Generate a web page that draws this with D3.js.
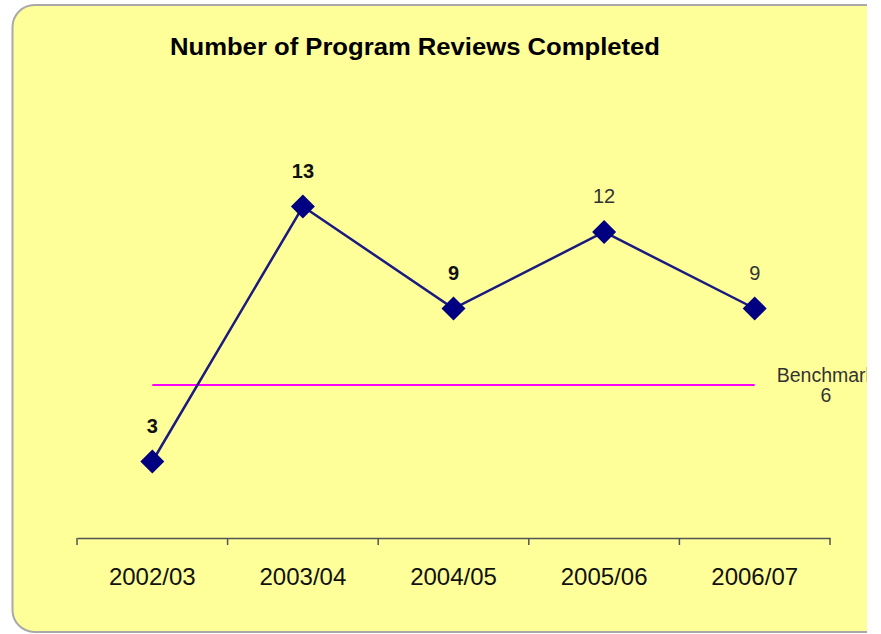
<html>
<head>
<meta charset="utf-8">
<script src="https://cdn.jsdelivr.net/npm/d3@7"></script>
<style>
body { margin: 0; background: #fff; }
.chart text { font-family: "Liberation Sans", Arial, sans-serif; }
.axis path, .axis line { stroke: #555; stroke-width: 1.5; }
</style>
</head>
<body>
<svg class="chart"></svg>
<script>
// data
var years = ["2002/03", "2003/04", "2004/05", "2005/06", "2006/07"];
var reviews = [3, 13, 9, 12, 9];
var benchmark = [6];
var title = "Number of Program Reviews Completed";

// which point labels are drawn bold (as in the original)
var boldLabel = [true, true, true, false, false];

var width = 881,
height = 634;

var svg = d3.select(".chart")
.attr("width", width)
.attr("height", height);

// yellow panel, rounded on the left, cut off on the right
svg.append("clipPath").attr("id", "panelClip")
.append("rect").attr("x", 0).attr("y", 0).attr("width", 867).attr("height", height);

var g = svg.append("g").attr("clip-path", "url(#panelClip)");

g.append("rect")
.attr("x", 12.5).attr("y", 5)
.attr("width", 920).attr("height", 627)
.attr("rx", 22).attr("ry", 22)
.attr("fill", "#ffff99")
.attr("stroke", "#a9a9a9")
.attr("stroke-width", 2);

var x = d3.scaleBand()
.domain(years)
.range([77, 830]);

var y = d3.scaleLinear()
.domain([0, 16])
.range([538, 130]);

// title
g.append("text")
.attr("x", 170).attr("y", 55)
.attr("font-size", 23)
.attr("font-weight", "bold")
.attr("fill", "#000")
.attr("textLength", 490)
.attr("lengthAdjust", "spacingAndGlyphs")
.text(title);

// x axis
var xAxis = g.append("g")
.attr("class", "axis")
.attr("transform", "translate(0," + y(0) + ")")
.call(d3.axisBottom(x).tickSize(0).tickSizeOuter(0));

xAxis.selectAll(".tick text")
.attr("dy", 0)
.attr("y", 47)
.attr("font-size", 24)
.attr("font-family", "Liberation Sans, Arial, sans-serif")
.attr("fill", "#111");

// tick marks on band edges
var edges = years.map(function(d) { return x(d); }).concat([x.range()[1]]);
xAxis.selectAll(".edge")
.data(edges)
.enter().append("line")
.attr("class", "edge")
.attr("x1", function(d) { return d; })
.attr("x2", function(d) { return d; })
.attr("y1", 0).attr("y2", 7)
.attr("stroke", "#555")
.attr("stroke-width", 1.5);

var cx = function(d, i) { return x(years[i]) + x.bandwidth() / 2; };

// benchmark line
g.selectAll(".bench")
.data(benchmark)
.enter().append("line")
.attr("class", "bench")
.attr("x1", x(years[0]) + x.bandwidth() / 2)
.attr("x2", x(years[years.length - 1]) + x.bandwidth() / 2)
.attr("y1", function(d) { return y(d); })
.attr("y2", function(d) { return y(d); })
.attr("stroke", "#ff00ff")
.attr("stroke-width", 2);

var benchLabel = g.append("text")
.attr("text-anchor", "middle")
.attr("font-size", 19.5)
.attr("fill", "#333");
benchLabel.append("tspan")
.attr("x", 826).attr("y", y(benchmark[0]) - 3.5)
.text("Benchmark");
benchLabel.append("tspan")
.attr("x", 826).attr("y", y(benchmark[0]) + 16.5)
.text(benchmark[0]);

// series line
var line = d3.line()
.x(cx)
.y(function(d) { return y(d); });

g.append("path")
.datum(reviews)
.attr("d", line)
.attr("fill", "none")
.attr("stroke", "#1a1a80")
.attr("stroke-width", 2.5);

// diamond markers
g.selectAll(".pt")
.data(reviews)
.enter().append("path")
.attr("class", "pt")
.attr("d", "M0,-12L12,0L0,12L-12,0Z")
.attr("transform", function(d, i) { return "translate(" + cx(d, i) + "," + y(d) + ")"; })
.attr("fill", "#000080");

// value labels
g.selectAll(".lbl")
.data(reviews)
.enter().append("text")
.attr("class", "lbl")
.attr("x", cx)
.attr("y", function(d) { return y(d) - 29; })
.attr("text-anchor", "middle")
.attr("font-size", 20)
.attr("font-weight", function(d, i) { return boldLabel[i] ? "bold" : "normal"; })
.attr("fill", function(d, i) { return boldLabel[i] ? "#111" : "#333"; })
.text(function(d) { return d; });
</script>
</body>
</html>
